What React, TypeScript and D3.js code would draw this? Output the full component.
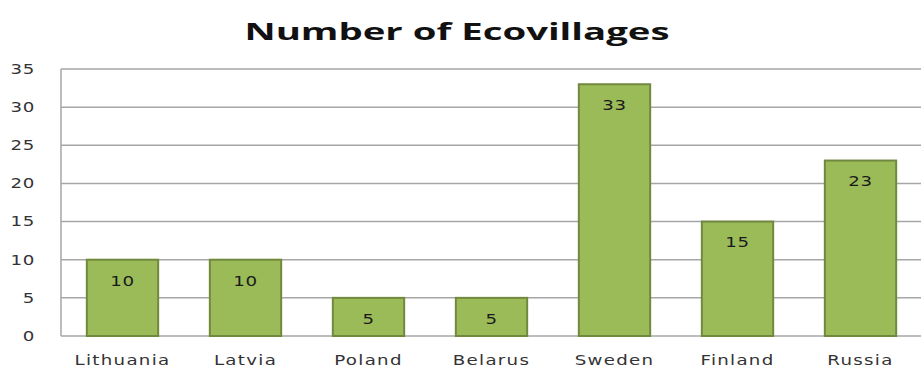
import React from "react";
import * as d3 from "d3";

const categories = ["Lithuania", "Latvia", "Poland", "Belarus", "Sweden", "Finland", "Russia"];
const values = [10, 10, 5, 5, 33, 15, 23];
const yTicks = [0, 5, 10, 15, 20, 25, 30, 35];
const title = "Number of Ecovillages";

const W = 921;
const H = 367;
const left = 61;
const right = 922;
const top = 69;
const bottom = 336;

export default function App() {
  const x = d3.scaleBand<string>().domain(categories).range([left, right]).paddingInner(0.42).paddingOuter(0.21);
  const y = d3.scaleLinear().domain([0, 35]).range([bottom, top]);
  const font = "'DejaVu Sans', Verdana, sans-serif";
  return (
    <svg width={W} height={H} style={{ position: "absolute", left: 0, top: 0, background: "#fff" }}>
      <text x={457} y={40} textAnchor="middle" fontFamily="'Open Sans', sans-serif" fontWeight="bold" fontSize={23} fill="#111" textLength={425} lengthAdjust="spacingAndGlyphs">
        {title}
      </text>
      {yTicks.map((t) => (
        <g key={t}>
          <line x1={left} x2={right} y1={y(t)} y2={y(t)} stroke="#a6a6a6" strokeWidth={1.5} />
          <text transform={`translate(35,${y(t)}) scale(1.3,1)`} dy="0.35em" textAnchor="end" fontFamily={font} fontSize={14} fill="#333" letterSpacing={0.5}>
            {t}
          </text>
        </g>
      ))}
      <line x1={left} x2={left} y1={top} y2={bottom} stroke="#a6a6a6" strokeWidth={1.5} />
      {categories.map((c, i) => (
        <g key={c}>
          <rect
            x={x(c)!}
            y={y(values[i])}
            width={x.bandwidth()}
            height={bottom - y(values[i])}
            fill="#9bbb59"
            stroke="#71893f"
            strokeWidth={2}
          />
          <text transform={`translate(${x(c)! + x.bandwidth() / 2},${y(values[i]) + 21}) scale(1.3,1)`} dy="0.35em" textAnchor="middle" fontFamily={font} fontSize={14} fill="#1a1a1a" letterSpacing={0.5}>
            {values[i]}
          </text>
          <text transform={`translate(${x(c)! + x.bandwidth() / 2},365) scale(1.3,1)`} textAnchor="middle" fontFamily={font} fontSize={14} fill="#333" letterSpacing={1}>
            {c}
          </text>
        </g>
      ))}
    </svg>
  );
}
